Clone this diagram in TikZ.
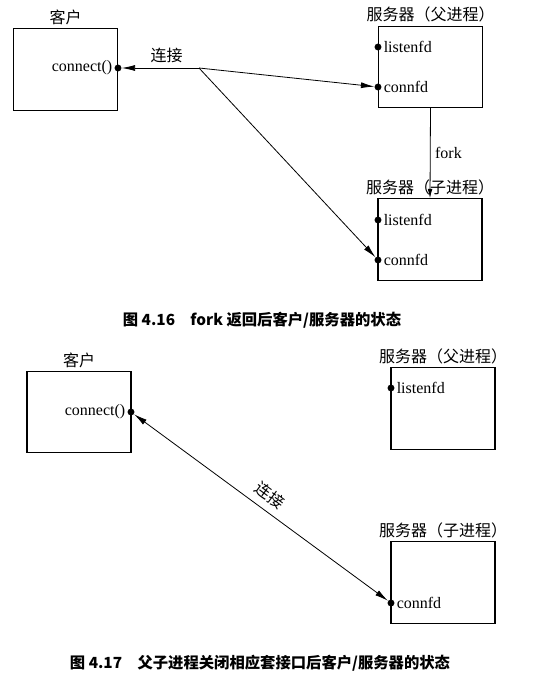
\documentclass[tikz,border=0pt]{standalone}
\usepackage{fontspec}
\setmainfont{Liberation Serif}
\newfontfamily\cjk{Noto Sans CJK SC}
\usetikzlibrary{positioning,arrows.meta}
\tikzset{
  box/.style={draw, line width=0.8pt, minimum width=78pt, minimum height=61pt, inner sep=0pt},
  sock/.style={circle, fill, inner sep=0pt, minimum size=5.2pt},
  head/.style={font=\cjk\fontsize{12}{14}\selectfont},
  figcap/.style={font=\cjk\bfseries\fontsize{11.5}{13}\selectfont},
  conn/.style={line width=0.6pt, -{Latex[length=10pt,width=4.5pt]}},
  both/.style={line width=0.6pt, {Latex[length=10pt,width=4.5pt]}-{Latex[length=10pt,width=4.5pt]}},
}
\begin{document}
\begin{tikzpicture}[x=0.75pt, y=-0.75pt, font=\fontsize{12}{14}\selectfont]
        \useasboundingbox (0,0) rectangle (550,675);
        % fork
        \node[box] (cliA) at (65.5,69.5) {};
        \node[box] (parA) at (430.5,67) {};
        \node[box] (chiA) at (430,239.5) {};
        \node[head, above=-1pt of cliA] {客户};
        \node[head, above=-1pt of parA] {服务器（父进程）};
        \node[head, above=-1pt of chiA] {服务器（子进程）};
        \node[sock] (cliAfd) at (118,68) {};
        \node[sock] (parAlisten) at (378,47) {};
        \node[sock] (parAconn) at (378,87) {};
        \node[sock] (chiAlisten) at (378,220) {};
        \node[sock] (chiAconn) at (378,260) {};
        \node[left=-2pt of cliAfd] {connect()};
        \foreach \s/\t in {parAlisten/listenfd, parAconn/connfd, chiAlisten/listenfd, chiAconn/connfd}{
            \node[right=-2pt of \s] {\t};
        }
        \coordinate (jA) at (199,68);
        \draw[conn] (jA) -- node[head, above, pos=0.42] {连接} (cliAfd);
        \draw[conn] (jA) -- (parAconn);
        \draw[conn] (jA) -- (chiAconn);
        \draw[line width=0.6pt, -{Latex[length=7pt,width=3.5pt]}] (parA.south) -- node[right] {fork} (chiA.north);
        \node[figcap] at (262,320) {图 4.16\quad fork 返回后客户/服务器的状态};
        % close
        \node[box] (cliB) at (79,412) {};
        \node[box] (parB) at (443,408.5) {};
        \node[box] (chiB) at (443,582.5) {};
        \node[head, above=-1pt of cliB] {客户};
        \node[head, above=-1pt of parB] {服务器（父进程）};
        \node[head, above=-1pt of chiB] {服务器（子进程）};
        \node[sock] (cliBfd) at (131,412) {};
        \node[sock] (parBlisten) at (391,388) {};
        \node[sock] (chiBconn) at (391,603) {};
        \node[left=-2pt of cliBfd] {connect()};
        \node[right=-2pt of parBlisten] {listenfd};
        \node[right=-2pt of chiBconn] {connfd};
        \draw[both] (cliBfd) -- node[head, sloped, above=2pt] {连接} (chiBconn);
        \node[figcap] at (260,663) {图 4.17\quad 父子进程关闭相应套接口后客户/服务器的状态};
\end{tikzpicture}
\end{document}
